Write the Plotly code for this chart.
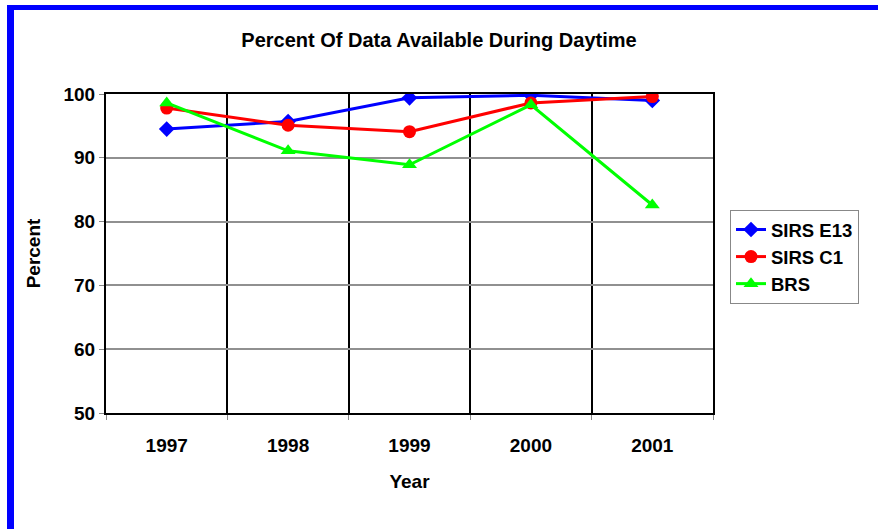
import plotly.graph_objects as go

years = ["1997", "1998", "1999", "2000", "2001"]
sirs_e13 = [94.5, 95.7, 99.4, 99.8, 99.0]
sirs_c1 = [97.8, 95.1, 94.1, 98.6, 99.6]
brs = [98.6, 91.1, 88.9, 98.3, 82.6]
y_ticks = [50, 60, 70, 80, 90, 100]

W, H = 878, 529
L, R, T, B = 106, 713, 94, 413

def px_x(p):
    return (p - L) / (R - L)

def px_y(p):
    return (B - p) / (B - T)

FAM = "Liberation Sans, Arial, sans-serif"
font = dict(family=FAM, size=19, color="#000000")

fig = go.Figure()
fig.add_trace(go.Scatter(x=years, y=sirs_e13, name="<b>SIRS E13</b>", mode="lines+markers",
                         line=dict(color="#0000FF", width=3),
                         marker=dict(symbol="diamond", size=12, color="#0000FF")))
fig.add_trace(go.Scatter(x=years, y=sirs_c1, name="<b>SIRS C1</b>", mode="lines+markers",
                         line=dict(color="#FF0000", width=3),
                         marker=dict(symbol="circle", size=13, color="#FF0000")))
fig.add_trace(go.Scatter(x=years, y=brs, name="<b>BRS</b>", mode="lines+markers",
                         line=dict(color="#00FF00", width=3),
                         marker=dict(symbol="triangle-up", size=13, color="#00FF00")))

fig.update_layout(
    width=W, height=H,
    margin=dict(l=L, r=W - R, t=T, b=H - B, pad=0),
    paper_bgcolor="white", plot_bgcolor="white",
    font=font,
    title=dict(text="<b>Percent Of Data Available During Daytime</b>",
               x=0.5, xref="container", xanchor="center", y=1 - 40 / H, yanchor="middle",
               font=dict(size=20, family=FAM)),
    showlegend=True,
    legend=dict(x=px_x(730), y=px_y(210), xanchor="left", yanchor="top",
                bordercolor="#888888", borderwidth=1, bgcolor="white",
                font=dict(size=18.5, family=FAM),
                tracegroupgap=0, itemwidth=30),
    xaxis=dict(type="category", tickson="boundaries", showgrid=True,
               gridcolor="#000000", gridwidth=2,
               showline=True, linecolor="#000000", linewidth=2, mirror=True,
               ticks="outside", ticklen=5, tickcolor="#888888",
               ticklabelstandoff=14,
               tickfont=dict(size=19, family=FAM),
               tickprefix="<b>", ticksuffix="</b>",
               title=dict(text="<b>Year</b>", font=dict(size=19, family=FAM), standoff=20),
               range=[-0.5, 4.5], zeroline=False, fixedrange=True),
    yaxis=dict(range=[50, 100], tickvals=y_ticks, ticktext=[f"<b>{v}</b>" for v in y_ticks],
               showgrid=True, gridcolor="#909090", gridwidth=1.5,
               showline=True, linecolor="#000000", linewidth=2, mirror=True,
               ticks="outside", ticklen=5, tickcolor="#888888",
               tickfont=dict(size=19, family=FAM),
               title=dict(text="<b>Percent</b>", font=dict(size=19, family=FAM), standoff=18),
               zeroline=False, fixedrange=True),
    shapes=[
        dict(type="rect", xref="paper", yref="paper",
             x0=px_x(7), x1=px_x(W + 2), y0=px_y(10), y1=px_y(5),
             fillcolor="#0000FF", line=dict(width=0), layer="above"),
        dict(type="rect", xref="paper", yref="paper",
             x0=px_x(7), x1=px_x(14), y0=px_y(H + 2), y1=px_y(5),
             fillcolor="#0000FF", line=dict(width=0), layer="above"),
    ],
)

fig.write_html("out.html", config={"displayModeBar": False},
               post_script="document.body.style.margin='0px';document.body.style.overflow='hidden';")
